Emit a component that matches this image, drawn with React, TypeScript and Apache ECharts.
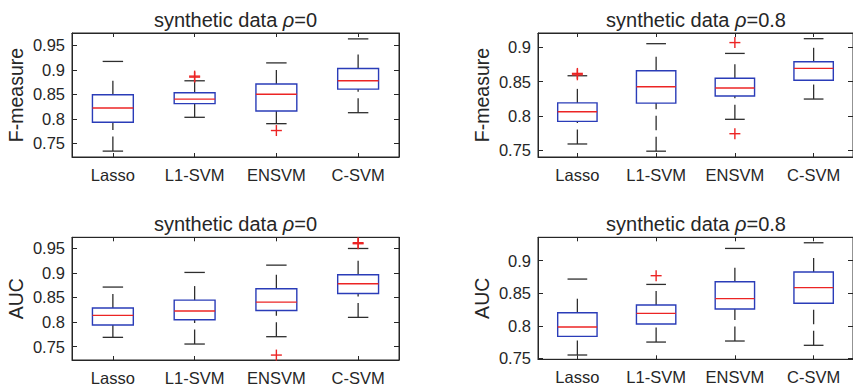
import React, { useEffect, useRef } from "react";
import * as echarts from "echarts";

const categories = ["Lasso", "L1-SVM", "ENSVM", "C-SVM"];

// [lower whisker, Q1, median, Q3, upper whisker]
const fmRho0 = [
  [0.734, 0.793, 0.822, 0.849, 0.917],
  [0.803, 0.831, 0.84, 0.853, 0.8775],
  [0.79, 0.816, 0.85, 0.871, 0.914],
  [0.8124, 0.8605, 0.8775, 0.9025, 0.963],
];
const fmRho0Outliers = [
  [1, 0.887],
  [1, 0.885],
  [2, 0.776],
];

const fmRho08 = [
  [0.759, 0.792, 0.806, 0.819, 0.8586],
  [0.7485, 0.8187, 0.8426, 0.866, 0.9054],
  [0.795, 0.829, 0.8407, 0.855, 0.8912],
  [0.8246, 0.852, 0.8693, 0.879, 0.9127],
];
const fmRho08Outliers = [
  [0, 0.862],
  [0, 0.86],
  [2, 0.907],
  [2, 0.774],
];

const aucRho0 = [
  [0.769, 0.794, 0.8135, 0.8284, 0.871],
  [0.7554, 0.8047, 0.8223, 0.8446, 0.9007],
  [0.7703, 0.8236, 0.8405, 0.8676, 0.9155],
  [0.8095, 0.8581, 0.8777, 0.896, 0.9493],
];
const aucRho0Outliers = [
  [2, 0.733],
  [3, 0.961],
  [3, 0.959],
];

const aucRho08 = [
  [0.7551, 0.7838, 0.7981, 0.8201, 0.8718],
  [0.775, 0.8027, 0.8191, 0.8319, 0.8636],
  [0.7766, 0.8259, 0.8418, 0.8677, 0.9189],
  [0.77, 0.8346, 0.8587, 0.8827, 0.9276],
];
const aucRho08Outliers = [[1, 0.877]];

const yRanges = [
  [0.722, 0.975],
  [0.74, 0.921],
  [0.723, 0.972],
  [0.7485, 0.936],
];
const yNames = ["F-measure", "F-measure", "AUC", "AUC"];
const rhoLabels = ["0", "0.8", "0", "0.8"];
const tickStep = 0.05;

const FONT = "'Liberation Sans', Arial, Helvetica, sans-serif";
const AX = "#262626";
const BLUE = "#2a3cb8";
const RED = "#ec2424";
const WHISK = "#2e2e2e";

const panels = [
  { left: 72, top: 33, width: 327, height: 124 },
  { left: 538, top: 33, width: 316, height: 124 },
  { left: 72, top: 237.3, width: 327, height: 122.7 },
  { left: 538, top: 237.3, width: 316, height: 122 },
];

const boxData = [fmRho0, fmRho08, aucRho0, aucRho08];
const outData = [fmRho0Outliers, fmRho08Outliers, aucRho0Outliers, aucRho08Outliers];

function renderBox(params: any, api: any) {
  const x = api.value(0);
  const lo = api.coord([x, api.value(1)]);
  const q1 = api.coord([x, api.value(2)]);
  const med = api.coord([x, api.value(3)]);
  const q3 = api.coord([x, api.value(4)]);
  const hi = api.coord([x, api.value(5)]);
  const band = api.size([1, 0])[0];
  const half = band * 0.25;
  const capHalf = band * 0.125;
  const cx = lo[0];
  return {
    type: "group",
    children: [
      {
        type: "line",
        shape: { x1: cx, y1: q3[1], x2: cx, y2: hi[1] },
        style: { stroke: WHISK, lineWidth: 1.3, lineDash: [14, 100] },
      },
      {
        type: "line",
        shape: { x1: cx, y1: lo[1], x2: cx, y2: q1[1] },
        style: { stroke: WHISK, lineWidth: 1.3, lineDash: [14.5, 6.5] },
      },
      {
        type: "line",
        shape: { x1: cx - capHalf, y1: hi[1], x2: cx + capHalf, y2: hi[1] },
        style: { stroke: WHISK, lineWidth: 1.3 },
      },
      {
        type: "line",
        shape: { x1: cx - capHalf, y1: lo[1], x2: cx + capHalf, y2: lo[1] },
        style: { stroke: WHISK, lineWidth: 1.3 },
      },
      {
        type: "rect",
        shape: { x: cx - half, y: q3[1], width: half * 2, height: q1[1] - q3[1] },
        style: { fill: "none", stroke: BLUE, lineWidth: 1.4 },
      },
      {
        type: "line",
        shape: { x1: cx - half, y1: med[1], x2: cx + half, y2: med[1] },
        style: { stroke: RED, lineWidth: 1.4 },
      },
    ],
  };
}

function renderOutlier(params: any, api: any) {
  const p = api.coord([api.value(0), api.value(1)]);
  const s = 5.5;
  return {
    type: "group",
    children: [
      {
        type: "line",
        shape: { x1: p[0] - s, y1: p[1], x2: p[0] + s, y2: p[1] },
        style: { stroke: RED, lineWidth: 1.4 },
      },
      {
        type: "line",
        shape: { x1: p[0], y1: p[1] - s, x2: p[0], y2: p[1] + s },
        style: { stroke: RED, lineWidth: 1.4 },
      },
    ],
  };
}

function isTick(v: number) {
  const r = v / tickStep;
  return Math.abs(r - Math.round(r)) < 1e-6;
}

export default function App() {
  const ref = useRef<HTMLDivElement>(null);
  useEffect(() => {
    if (!ref.current) return;
    const chart = echarts.init(ref.current, null, { renderer: "svg" });
    const grid: any[] = [];
    const xAxis: any[] = [];
    const yAxis: any[] = [];
    const series: any[] = [];
    const graphic: any[] = [];
    panels.forEach((p, i) => {
      grid.push({
        left: p.left,
        top: p.top,
        width: p.width,
        height: p.height,
        show: true,
        borderColor: AX,
        borderWidth: 1,
        backgroundColor: "transparent",
      });
      const axisLine = { show: true, lineStyle: { color: AX, width: 1 } };
      xAxis.push({
        type: "category",
        gridIndex: i,
        data: categories,
        boundaryGap: true,
        position: "bottom",
        axisLine,
        axisTick: { show: true, inside: true, alignWithLabel: true, length: 4, lineStyle: { color: AX } },
        axisLabel: { color: AX, fontSize: 16.5, fontFamily: FONT, margin: 9 },
        splitLine: { show: false },
      });
      xAxis.push({
        type: "category",
        gridIndex: i,
        data: categories,
        boundaryGap: true,
        position: "top",
        axisLine,
        axisTick: { show: true, inside: true, alignWithLabel: true, length: 4, lineStyle: { color: AX } },
        axisLabel: { show: false },
        splitLine: { show: false },
      });
      const yBase = {
        type: "value",
        gridIndex: i,
        min: yRanges[i][0],
        max: yRanges[i][1],
        minInterval: tickStep,
        maxInterval: tickStep,
        splitNumber: 4,
        axisLine,
        axisTick: { show: true, inside: true, length: 5, lineStyle: { color: AX } },
        splitLine: { show: false },
      };
      yAxis.push({
        ...yBase,
        position: "left",
        name: yNames[i],
        nameLocation: "middle",
        nameGap: 46,
        nameTextStyle: { color: AX, fontSize: 19.5, fontFamily: FONT },
        axisLabel: {
          color: AX,
          fontSize: 16.5,
          fontFamily: FONT,
          margin: 7,
          showMinLabel: false,
          showMaxLabel: false,
          formatter: (v: number) => (isTick(v) ? String(+v.toFixed(2)) : ""),
        },
      });
      yAxis.push({
        ...yBase,
        position: "right",
        axisLabel: { show: false },
      });
      series.push({
        type: "custom",
        xAxisIndex: 2 * i,
        yAxisIndex: 2 * i,
        renderItem: renderBox,
        encode: { x: 0, y: [1, 2, 3, 4, 5] },
        data: boxData[i].map((b, k) => [k, ...b]),
        silent: true,
      });
      series.push({
        type: "custom",
        xAxisIndex: 2 * i,
        yAxisIndex: 2 * i,
        renderItem: renderOutlier,
        encode: { x: 0, y: 1 },
        data: outData[i],
        silent: true,
      });
      graphic.push({
        type: "text",
        x: p.left + p.width / 2,
        y: p.top - 13,
        style: {
          text: "synthetic data {r|ρ}=" + rhoLabels[i],
          fill: AX,
          fontSize: 20,
          fontFamily: FONT,
          align: "center",
          verticalAlign: "middle",
          rich: {
            r: { fontStyle: "italic", fontSize: 20, fontFamily: FONT, fill: AX },
          },
        },
      });
    });
    chart.setOption({
      animation: false,
      backgroundColor: "#ffffff",
      grid,
      xAxis,
      yAxis,
      series,
      graphic,
    });
    return () => chart.dispose();
  }, []);
  return (
    <div
      ref={ref}
      style={{ position: "fixed", left: 0, top: 0, width: 853, height: 389 }}
    />
  );
}
